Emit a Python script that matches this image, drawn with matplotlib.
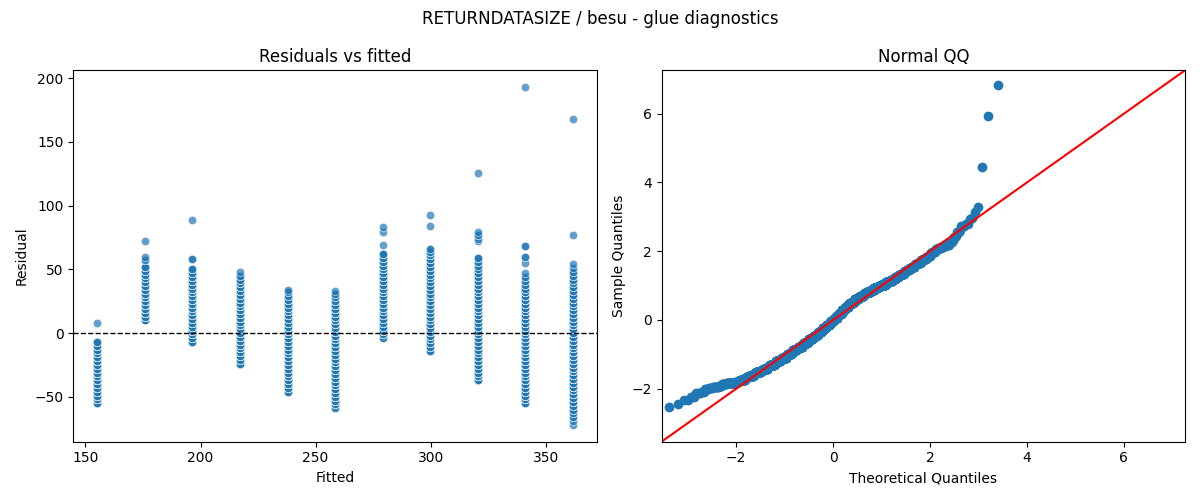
import numpy as np
import pandas as pd
import matplotlib
matplotlib.use("Agg")
import matplotlib.pyplot as plt
import seaborn as sns
from statistics import NormalDist

# --- Fitted levels (one column of residuals per level) ---
fitted_levels = [155.1, 175.8, 196.4, 217.1, 237.8, 258.5, 279.2, 299.8, 320.5, 341.2, 361.9]

# --- Residual values per fitted level, with how many runs landed on each value ---
r155 = [-55, -52, -49, -46, -43, -40, -37, -34, -31, -28, -25, -22, -19, -16, -13, -10, -7, 8]
n155 = [5, 14, 13, 15, 17, 19, 20, 21, 21, 20, 20, 18, 16, 14, 11, 8, 5, 1]

r176 = [10, 13, 16, 19, 22, 25, 28, 31, 34, 37, 40, 43, 46, 49, 52, 57, 60, 72]
n176 = [4, 6, 9, 12, 17, 20, 21, 20, 15, 12, 9, 7, 6, 5, 4, 2, 1, 1]

r196 = [-7, -4, -1, 2, 5, 8, 11, 14, 17, 20, 23, 26, 29, 32, 35, 38, 41, 44, 47, 50, 58, 89]
n196 = [4, 6, 8, 9, 10, 11, 12, 14, 16, 19, 20, 19, 17, 12, 9, 7, 6, 5, 4, 3, 2, 1]

r217 = [-24, -21, -18, -15, -12, -9, -6, -3, 0, 3, 6, 9, 12, 15, 18, 21, 24, 27, 30, 33, 36, 39, 42, 45, 48]
n217 = [5, 7, 9, 11, 12, 13, 14, 14, 12, 12, 12, 12, 13, 13, 15, 15, 14, 12, 10, 7, 5, 4, 3, 2, 1]

r238 = [-46, -43, -40, -37, -34, -31, -28, -25, -22, -19, -16, -13, -10, -7, -4, -1,
        2, 5, 8, 11, 14, 17, 20, 23, 26, 29, 32, 34]
n238 = [3, 6, 8, 10, 12, 13, 14, 17, 18, 18, 18, 18, 17, 17, 16, 14,
        11, 10, 9, 8, 8, 7, 6, 5, 4, 3, 2, 1]

r258 = [-59, -56, -53, -50, -47, -44, -41, -38, -35, -32, -29, -26, -23, -20, -17, -14,
        -11, -8, -5, -2, 1, 4, 7, 10, 13, 16, 19, 22, 25, 28, 31, 33]
n258 = [2, 4, 9, 8, 10, 11, 13, 14, 14, 15, 15, 17, 17, 17, 17, 17,
        15, 14, 13, 12, 10, 9, 8, 7, 6, 6, 5, 5, 4, 3, 2, 1]

r279 = [-4, -1, 2, 5, 8, 11, 14, 17, 20, 23, 26, 29, 32, 35, 38, 41, 44, 47, 50, 53,
        56, 59, 62, 69, 79, 83]
n279 = [2, 4, 5, 6, 8, 9, 11, 14, 17, 18, 18, 16, 12, 9, 7, 6, 6, 6, 5, 4,
        4, 4, 5, 1, 1, 1]

r300 = [-14, -11, -8, -5, -2, 1, 4, 7, 10, 13, 16, 19, 22, 25, 28, 31, 34, 37, 40, 43,
        46, 49, 52, 55, 58, 61, 64, 66, 84, 93]
n300 = [3, 4, 5, 7, 8, 9, 9, 10, 11, 13, 15, 18, 19, 19, 18, 15, 11, 9, 7, 6,
        6, 5, 4, 4, 4, 5, 4, 2, 1, 1]

r320 = [-37, -34, -31, -28, -25, -22, -19, -16, -13, -10, -7, -4, -1, 2, 5, 8, 11, 14, 17,
        20, 23, 26, 29, 32, 35, 38, 41, 44, 47, 50, 53, 56, 59, 72, 74, 77, 79, 126]
n320 = [3, 5, 7, 8, 11, 13, 14, 14, 14, 14, 14, 14, 13, 11, 11, 10, 11, 12, 12,
        13, 13, 11, 10, 7, 6, 5, 4, 5, 4, 3, 2, 3, 3, 1, 1, 2, 1, 1]

r341 = [-55, -52, -49, -46, -43, -40, -37, -34, -31, -28, -25, -22, -19, -16, -13, -10, -7,
        -4, -1, 2, 5, 8, 11, 14, 17, 20, 23, 26, 29, 32, 35, 38, 41, 44, 47, 55, 60, 68, 193]
n341 = [3, 11, 8, 9, 10, 11, 12, 12, 13, 13, 15, 16, 16, 17, 17, 16, 16,
        15, 13, 11, 10, 9, 9, 9, 8, 8, 7, 6, 6, 4, 3, 3, 2, 2, 1, 1, 2, 2, 1]

r362 = [-72, -69, -66, -63, -60, -57, -54, -51, -48, -45, -42, -39, -36, -33, -30, -27, -24,
        -21, -18, -15, -12, -9, -6, -3, 0, 3, 6, 9, 12, 15, 18, 21, 24, 27, 30, 33, 36,
        39, 42, 45, 48, 51, 54, 77, 168]
n362 = [1, 1, 2, 2, 3, 3, 5, 6, 7, 8, 9, 10, 11, 12, 12, 13, 14,
        14, 14, 14, 13, 13, 13, 12, 11, 9, 8, 8, 7, 7, 7, 7, 6, 5, 4, 3, 3,
        2, 2, 2, 2, 1, 1, 1, 1]

resid_groups = [r155, r176, r196, r217, r238, r258, r279, r300, r320, r341, r362]
count_groups = [n155, n176, n196, n217, n238, n258, n279, n300, n320, n341, n362]

# --- Expand into one row per run ---
rows = []
for fv, vals, cnts in zip(fitted_levels, resid_groups, count_groups):
    assert len(vals) == len(cnts)
    for v, c in zip(vals, cnts):
        rows += [(fv, v)] * c
df = pd.DataFrame(rows, columns=["fitted", "resid"])

# standardised residuals and normal plotting positions for the QQ plot
z = np.sort((df["resid"] - df["resid"].mean()) / df["resid"].std(ddof=0))
n = len(z)
nd = NormalDist()
theo = np.array([nd.inv_cdf(i / (n + 1)) for i in range(1, n + 1)])

# --- Figure ---
fig, (ax1, ax2) = plt.subplots(1, 2, figsize=(12, 5), dpi=100)

sns.scatterplot(data=df, x="fitted", y="resid", alpha=0.7, ax=ax1)
ax1.axhline(0, color="k", linestyle="--", linewidth=1)
ax1.set_title("Residuals vs fitted")
ax1.set_xlabel("Fitted")
ax1.set_ylabel("Residual")

ax2.plot(theo, z, marker="o", linestyle="none", color="C0", markersize=6)
lims = [-3.54, 7.26]
ax2.plot(lims, lims, "r-")
ax2.set_xlim(lims)
ax2.set_ylim(lims)
ax2.set_title("Normal QQ")
ax2.set_xlabel("Theoretical Quantiles")
ax2.set_ylabel("Sample Quantiles")

fig.suptitle("RETURNDATASIZE / besu - glue diagnostics")
fig.tight_layout()
fig.savefig("out.png")
